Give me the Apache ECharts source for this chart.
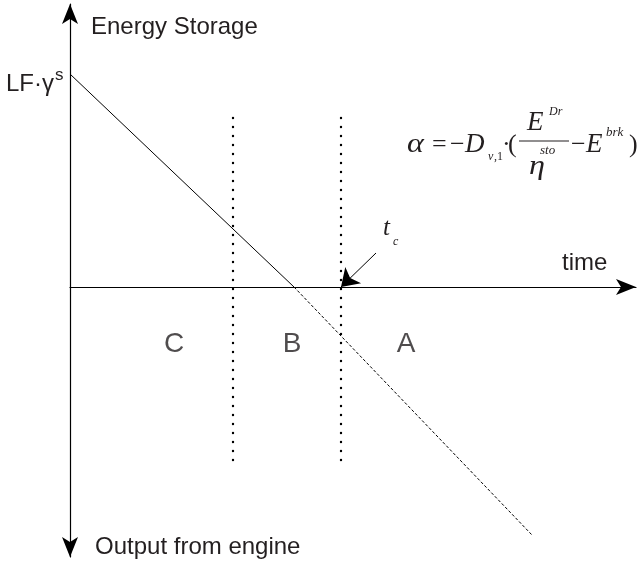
<!DOCTYPE html>
<html>
<head>
<meta charset="utf-8" />
<title>Energy Storage</title>
<script src="https://cdn.jsdelivr.net/npm/echarts@6/dist/echarts.min.js"></script>
<style>
  html, body { margin: 0; padding: 0; background: #fff; }
  #main { width: 639px; height: 562px; }
</style>
</head>
<body>
<div id="main"></div>
<script>
// storage line: solid until it hits zero, dashed after
var solidLine = [[0, 2.13], [2.24, 0]];
var dashLine = [[2.24, 0], [4.62, -2.48]];
// dotted region boundaries
var bounds = [1.63, 2.71];
var boundTop = 1.69, boundBottom = -1.73;
// region letters
var regionNames = ['C', 'B', 'A'];
var regionX = [1.04, 2.22, 3.36];
var regionY = -0.57;
// t_c pointer
var tcArrow = [[3.06, 0.34], [2.71, 0]];

var sans = "'Liberation Sans', Arial, sans-serif";
var serif = "'Liberation Serif', 'Times New Roman', serif";
var ink = '#231f20';

var chart = echarts.init(document.getElementById('main'));

function txt(s, x, y, size, italic, fam, sx) {
    return {
        type: 'text', x: x, y: y, scaleX: sx || 1, silent: true,
        style: {
            text: s, fill: ink, fontSize: size,
            fontStyle: italic ? 'italic' : 'normal',
            fontFamily: fam || sans,
            align: 'left', verticalAlign: 'middle'
        }
    };
}
function ftxt(s, x, y, size, italic, sx) {
    return txt(s, x, y, size, italic, serif, sx);
}

var boundSeries = bounds.map(function (b) {
    return {
        type: 'line', data: [[b, boundTop], [b, boundBottom]],
        symbol: 'none', silent: true,
        lineStyle: { color: '#000', width: 2.4, type: [0.1, 8.9], cap: 'round' }
    };
});

var option = {
    animation: false,
    grid: { left: 70, right: 3, top: 4, bottom: 5 },
    xAxis: {
        type: 'value', min: 0, max: 5.66,
        axisLine: { onZero: true, symbol: ['none', 'arrow'], symbolSize: [12, 20], lineStyle: { color: '#000', width: 1.2 } },
        axisTick: { show: false }, axisLabel: { show: false }, splitLine: { show: false }
    },
    yAxis: {
        type: 'value', min: -2.70, max: 2.83,
        axisLine: { show: true, onZero: true, symbol: ['arrow', 'arrow'], symbolSize: [12, 20], lineStyle: { color: '#000', width: 1.2 } },
        axisTick: { show: false }, axisLabel: { show: false }, splitLine: { show: false }
    },
    series: [
        {
            type: 'line', data: solidLine, symbol: 'none', silent: true,
            lineStyle: { color: '#000', width: 1 }
        },
        {
            type: 'line', data: dashLine, symbol: 'none', silent: true,
            lineStyle: { color: '#000', width: 1, type: [3, 2] }
        }
    ].concat(boundSeries).concat([
        {
            type: 'lines', coordinateSystem: 'cartesian2d', silent: true,
            data: [{ coords: tcArrow }],
            symbol: ['none', 'arrow'], symbolSize: [12, 17],
            lineStyle: { color: '#000', width: 1, opacity: 1 }
        },
        {
            type: 'scatter', symbolSize: 0, silent: true,
            data: regionNames.map(function (n, i) { return { name: n, value: [regionX[i], regionY] }; }),
            label: { show: true, position: 'inside', formatter: '{b}', fontSize: 28, color: ink, fontFamily: sans }
        }
    ]),
    graphic: [
        txt('Energy Storage', 91, 27, 24),
        txt('LF\u00b7\u03b3', 6, 84, 24),
        txt('s', 55, 75, 17),
        txt('time', 562, 263, 24),
        txt('Output from engine', 95, 547, 24),
        txt('t', 383, 228, 25, true, serif),
        txt('c', 393, 242, 12, true, serif),
        // formula
        ftxt('\u03b1', 407, 145, 28, true, 1.15),
        ftxt('=', 432, 145, 26, false),
        ftxt('\u2212', 450, 145, 26, false),
        ftxt('D', 465, 145, 27, true),
        ftxt('v', 488, 157, 12, true),
        ftxt(',1', 494, 157, 12, false),
        ftxt('\u00b7', 502, 145, 26, false),
        ftxt('(', 508, 145, 26, false),
        ftxt('E', 527, 123, 27, true),
        ftxt('Dr', 549, 112, 12, true),
        { type: 'line', silent: true, shape: { x1: 519, y1: 141, x2: 569, y2: 141 }, style: { stroke: ink, lineWidth: 1.2 } },
        ftxt('\u03b7', 529, 167, 28, true, 1.15),
        ftxt('sto', 540, 151, 13, true),
        ftxt('\u2212', 571, 145, 26, false),
        ftxt('E', 586, 145, 27, true),
        ftxt('brk', 606, 133, 13, true),
        ftxt(')', 629, 145, 26, false)
    ]
};

chart.setOption(option);
</script>
</body>
</html>
